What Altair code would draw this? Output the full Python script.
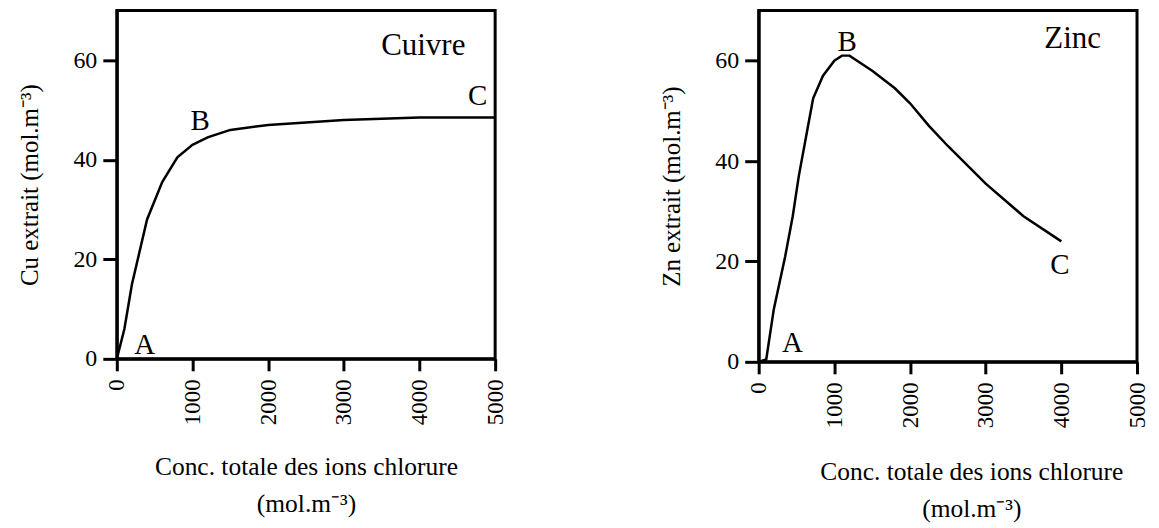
import altair as alt
import pandas as pd

# Copper curve (Cuivre)
cu_x = [0, 100, 200, 400, 600, 800, 1000, 1200, 1500, 2000, 3000, 4000, 5000]
cu_y = [0, 6, 15, 28, 35.5, 40.5, 43, 44.5, 46, 47, 48, 48.5, 48.5]

# Zinc curve
zn_x = [0, 100, 200, 350, 450, 530, 640, 720, 850, 1000, 1100, 1200, 1500,
        1800, 2000, 2250, 2500, 3000, 3500, 4000]
zn_y = [0, 0.5, 10.5, 21, 29, 37, 46, 52.5, 57, 60, 61, 61, 58,
        54.5, 51.5, 47, 43, 35.5, 29, 24]

# Point annotations (data coordinates)
cu_labels = ["A", "B", "C"]
cu_label_x = [370, 1100, 4770]
cu_label_y = [1, 46, 51]

zn_labels = ["A", "B", "C"]
zn_label_x = [445, 1170, 3980]
zn_label_y = [2, 62, 17.5]

# Panel names (data coordinates)
cu_name = ["Cuivre"]
cu_name_x = [4050]
cu_name_y = [61]
zn_name = ["Zinc"]
zn_name_x = [4150]
zn_name_y = [62.5]

x_ticks = [0, 1000, 2000, 3000, 4000, 5000]
y_ticks = [0, 20, 40, 60]
x_title = ["Conc. totale des ions chlorure", "(mol.m\u207b\u00b3)"]

FONT = "Liberation Serif"


def panel(xs, ys, lt, lx, ly, nt, nx, ny, ytitle, w, h, title_x=None, xtpad=30):
    df = pd.DataFrame({"x": xs, "y": ys})
    ldf = pd.DataFrame({"x": lx, "y": ly, "t": lt})
    ndf = pd.DataFrame({"x": nx, "y": ny, "t": nt})
    xscale = alt.Scale(domain=[0, 5000], nice=False, zero=False)
    yscale = alt.Scale(domain=[0, 70], nice=False)
    xargs = dict(values=x_ticks, labelAngle=270, title=x_title, tickSize=12,
                 labelPadding=8, labelFontSize=23, titleFontSize=25.5,
                 titlePadding=xtpad, titleLineHeight=37, format="d")
    if title_x is not None:
        xargs["titleX"] = title_x
    xaxis = alt.Axis(**xargs)
    yaxis = alt.Axis(values=y_ticks, title=ytitle, tickSize=14, labelPadding=6,
                     labelFontSize=24, titleFontSize=25, titlePadding=30, format="d")
    enc_x = alt.X("x:Q", scale=xscale, axis=xaxis)
    enc_y = alt.Y("y:Q", scale=yscale, axis=yaxis)
    line = alt.Chart(df).mark_line(color="black", strokeWidth=2.5).encode(
        x=enc_x, y=enc_y)
    text = alt.Chart(ldf).mark_text(font=FONT, fontSize=29, align="center",
                                    baseline="alphabetic", color="black").encode(
        x=enc_x, y=enc_y, text="t:N")
    name = alt.Chart(ndf).mark_text(font=FONT, fontSize=31, align="center",
                                    baseline="alphabetic", color="black").encode(
        x=enc_x, y=enc_y, text="t:N")
    return alt.layer(line, text, name).properties(width=w, height=h)


left = panel(cu_x, cu_y, cu_labels, cu_label_x, cu_label_y,
             cu_name, cu_name_x, cu_name_y,
             "Cu extrait (mol.m\u207b\u00b3)", 379, 349)
right = panel(zn_x, zn_y, zn_labels, zn_label_x, zn_label_y,
              zn_name, zn_name_x, zn_name_y,
              "Zn extrait (mol.m\u207b\u00b3)", 379, 352, title_x=213, xtpad=32)

chart = alt.hconcat(left, right, spacing=149).properties(
    padding={"left": 8, "top": 0, "right": 0, "bottom": 0},
    background="white"
).configure_view(
    stroke="black", strokeWidth=3
).configure_axis(
    grid=False, domainColor="black", domainWidth=3, tickColor="black",
    tickWidth=3, labelColor="black", titleColor="black", labelFont=FONT,
    titleFont=FONT, titleFontWeight="normal"
)

chart.save("out.html", embed_options={"renderer": "svg", "actions": False})
